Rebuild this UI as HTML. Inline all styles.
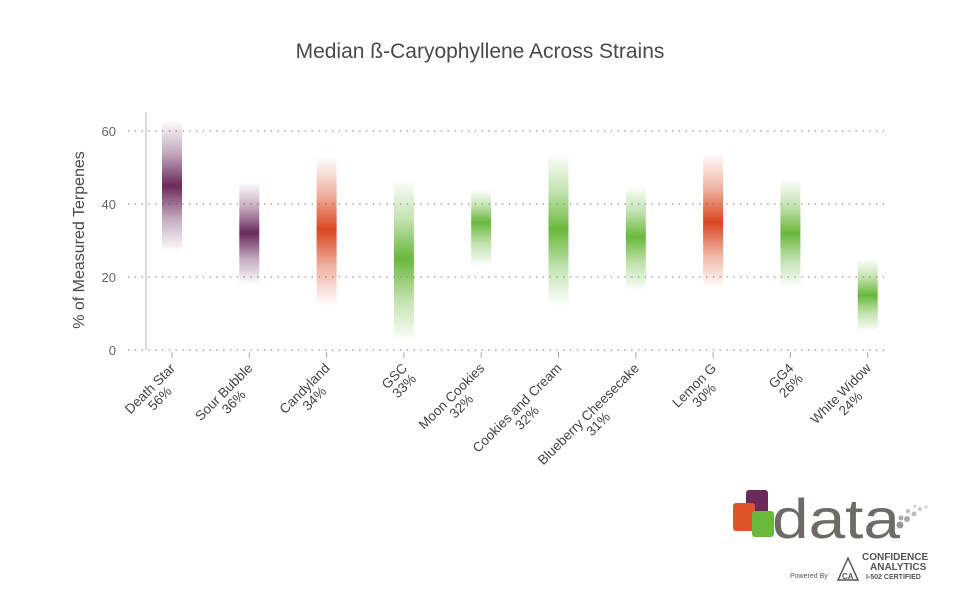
<!DOCTYPE html>
<html><head><meta charset="utf-8"><style>
body{margin:0;background:#fff;width:960px;height:600px;overflow:hidden;font-family:"Liberation Sans",sans-serif}
</style></head><body>
<svg id="chart" width="960" height="600">
<text x="480" y="58" text-anchor="middle" font-size="21" fill="#4a4a4a">Median ß-Caryophyllene Across Strains</text>
<text transform="translate(84,240) rotate(-90)" text-anchor="middle" font-size="16" fill="#4a4a4a">% of Measured Terpenes</text>
<line x1="146" y1="112" x2="146" y2="350" stroke="#c8ccd4" stroke-width="1.5"/>
<g id="grid"></g><g id="bars"></g><g id="xl"></g>
<g>
<rect x="746" y="490" width="22" height="26" rx="3" fill="#6b2a5c"/>
<rect x="733" y="503" width="22" height="28" rx="3" fill="#e0522a"/>
<rect x="752" y="511" width="22" height="26" rx="3" fill="#6ab83c"/>
<text x="772" y="538" font-size="56" fill="#6e6a66" textLength="128" lengthAdjust="spacingAndGlyphs">data</text>
<circle cx="900" cy="525" r="3.5" fill="#999"/><circle cx="907" cy="519" r="3" fill="#aaa"/><circle cx="901" cy="518" r="2.5" fill="#aaa"/><circle cx="914" cy="514" r="2.5" fill="#bbb"/><circle cx="908" cy="511" r="2" fill="#bbb"/><circle cx="920" cy="509" r="2" fill="#ccc"/><circle cx="926" cy="507" r="1.5" fill="#ccc"/><circle cx="915" cy="506" r="1.5" fill="#ccc"/>
<text x="790" y="578" font-size="7" fill="#555">Powered By</text>
<path d="M838 580 L848 558 L858 580 Z" fill="none" stroke="#555" stroke-width="1.5"/>
<text x="842" y="579" font-size="8" font-weight="bold" fill="#555">CA</text>
<text x="862" y="560" font-size="10" font-weight="bold" fill="#555">CONFIDENCE</text>
<text x="870" y="570" font-size="10" font-weight="bold" fill="#555">ANALYTICS</text>
<text x="866" y="579" font-size="7" font-weight="bold" fill="#555">I-502 CERTIFIED</text>
</g>
</svg>
<script>
const categories=["Death Star","Sour Bubble","Candyland","GSC","Moon Cookies","Cookies and Cream","Blueberry Cheesecake","Lemon G","GG4","White Widow"];
const percentLabels=["56%","36%","34%","33%","32%","32%","31%","30%","26%","24%"];
const highs=[63,46,53,47,44,54,45,54,47,25];
const lows=[27,18,12,2,23,12,16,17,17,5];
const medians=[45,32,33,25,35,33,31,35,32,15];
const colorKeys=["p","p","o","g","g","g","g","o","g","g"];
const yTicks=[0,20,40,60];
const colors={p:"#6b2a5c",o:"#d9461f",g:"#6ab83c"};
const NS="http://www.w3.org/2000/svg";
const y=v=>350-v*(219/60);
const x=i=>172+i*77.3;
function mk(t,a,p){const e=document.createElementNS(NS,t);for(const k in a)e.setAttribute(k,a[k]);p.appendChild(e);return e;}
const grid=document.getElementById('grid');
yTicks.forEach(v=>{
 const l=mk('line',{x1:128,x2:888,y1:y(v),y2:y(v),stroke:'#888','stroke-width':1.3,'stroke-dasharray':'1.3 5.5'},grid);
 
 
 const t=mk('text',{x:116,y:y(v)+5,'text-anchor':'end','font-size':13,fill:'#666'},grid);t.textContent=v;
 
 
});
const bars=document.getElementById('bars'),xl=document.getElementById('xl');
const defs=mk('defs',{},bars);
categories.forEach((c,i)=>{
 const top=y(highs[i]),bot=y(lows[i]),h=bot-top,mid=(y(medians[i])-top)/h*100;
 const g=mk('linearGradient',{id:'g'+i,x1:0,y1:0,x2:0,y2:1},defs);
 [[0,0],[mid*0.5,0.4],[mid,1],[mid+(100-mid)*0.5,0.4],[100,0]].forEach(s=>mk('stop',{offset:s[0]+'%','stop-color':colors[colorKeys[i]],'stop-opacity':s[1]},g));
 const r=mk('rect',{x:x(i)-10,y:top,width:20,height:h,fill:'url(#g'+i+')'},bars);
 
 
 mk('line',{x1:x(i),x2:x(i),y1:352,y2:358,stroke:'#aaa'},bars);
 const grp=mk('g',{transform:`translate(${x(i)+4},${369}) rotate(-45)`,'font-size':13.5,fill:'#444'},xl);
 
 
 const a=mk('text',{x:0,y:0,'text-anchor':'end'},grp);a.textContent=c;
 const w=a.getComputedTextLength();
 const b=mk('text',{x:-w/2,y:14,'text-anchor':'middle'},grp);b.textContent=percentLabels[i];
});
</script>
</body></html>
